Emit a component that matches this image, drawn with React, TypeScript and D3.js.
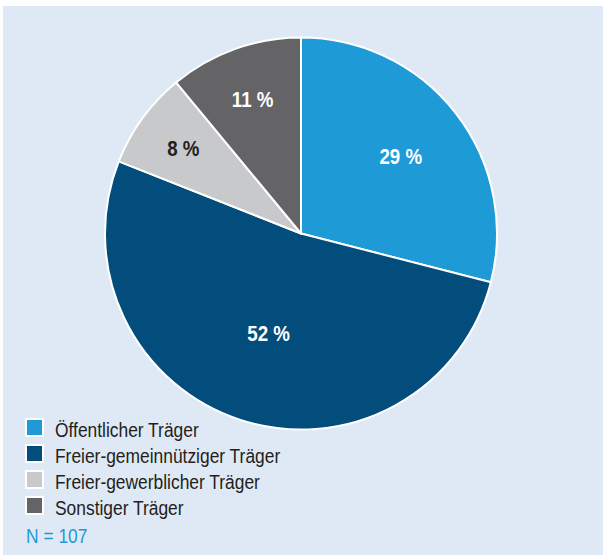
import { useEffect, useRef } from 'react';
import * as d3 from 'd3';

const categories = ['Öffentlicher Träger', 'Freier-gemeinnütziger Träger', 'Freier-gewerblicher Träger', 'Sonstiger Träger'];
const shares = [29, 52, 8, 11];
const colors = ['#1e9ad6', '#034d7d', '#c8c9ca', '#646466'];
const labelColors = ['#ffffff', '#ffffff', '#231f20', '#ffffff'];
const sampleNote = 'N = 107';

export default function App() {
  const ref = useRef<SVGSVGElement | null>(null);

  useEffect(() => {
    const svg = d3.select(ref.current);
    svg.selectAll('*').remove();

    const font = '"Liberation Sans", Arial, sans-serif';
    const squeeze = 0.87; // reference uses a condensed face

    // background panel
    svg.append('rect')
      .attr('x', 3).attr('y', 6)
      .attr('width', 600).attr('height', 549)
      .attr('fill', '#dfe9f5');

    const cx = 301, cy = 233.5, r = 196;
    const data = shares.map((v, i) => ({ name: categories[i], value: v, color: colors[i], labelColor: labelColors[i] }));

    const pie = d3.pie<any>().value(d => d.value).sort(null);
    const arc = d3.arc<any>().innerRadius(0).outerRadius(r);
    const arcs = pie(data);

    const g = svg.append('g').attr('transform', `translate(${cx},${cy})`);

    g.selectAll('path')
      .data(arcs)
      .enter().append('path')
      .attr('d', arc)
      .attr('fill', d => d.data.color)
      .attr('stroke', '#ffffff')
      .attr('stroke-width', 2)
      .attr('stroke-linejoin', 'round');

    // labels: smaller slices sit further out
    g.selectAll('text')
      .data(arcs)
      .enter().append('text')
      .attr('transform', d => {
        const lr = r * (0.78 - 0.0047 * d.data.value);
        const a = (d.startAngle + d.endAngle) / 2;
        return `translate(${Math.sin(a) * lr},${-Math.cos(a) * lr}) scale(0.85,1)`;
      })
      .attr('text-anchor', 'middle')
      .attr('dy', '0.36em')
      .attr('font-family', font)
      .attr('font-weight', 'bold')
      .attr('font-size', 22)
      .attr('fill', d => d.data.labelColor)
      .text(d => `${d.data.value} %`);

    // legend
    const legend = svg.append('g').attr('transform', 'translate(25,418)');
    const rows = legend.selectAll('g')
      .data(data)
      .enter().append('g')
      .attr('transform', (d, i) => `translate(0,${i * 26})`);

    rows.append('rect')
      .attr('x', 1).attr('y', 1)
      .attr('width', 17).attr('height', 17)
      .attr('fill', d => d.color)
      .attr('stroke', '#ffffff')
      .attr('stroke-width', 2);

    rows.append('text')
      .attr('transform', `translate(30,19) scale(${squeeze},1)`)
      .attr('font-family', font)
      .attr('font-size', 20)
      .attr('fill', '#231f20')
      .text(d => d.name);

    legend.append('text')
      .attr('transform', `translate(1,125) scale(${squeeze},1)`)
      .attr('font-family', font)
      .attr('font-size', 20)
      .attr('fill', '#1e9ad6')
      .text(sampleNote);
  }, []);

  return (
    <svg ref={ref} width={603} height={559}
      style={{ position: 'absolute', left: 0, top: 0, display: 'block' }} />
  );
}
